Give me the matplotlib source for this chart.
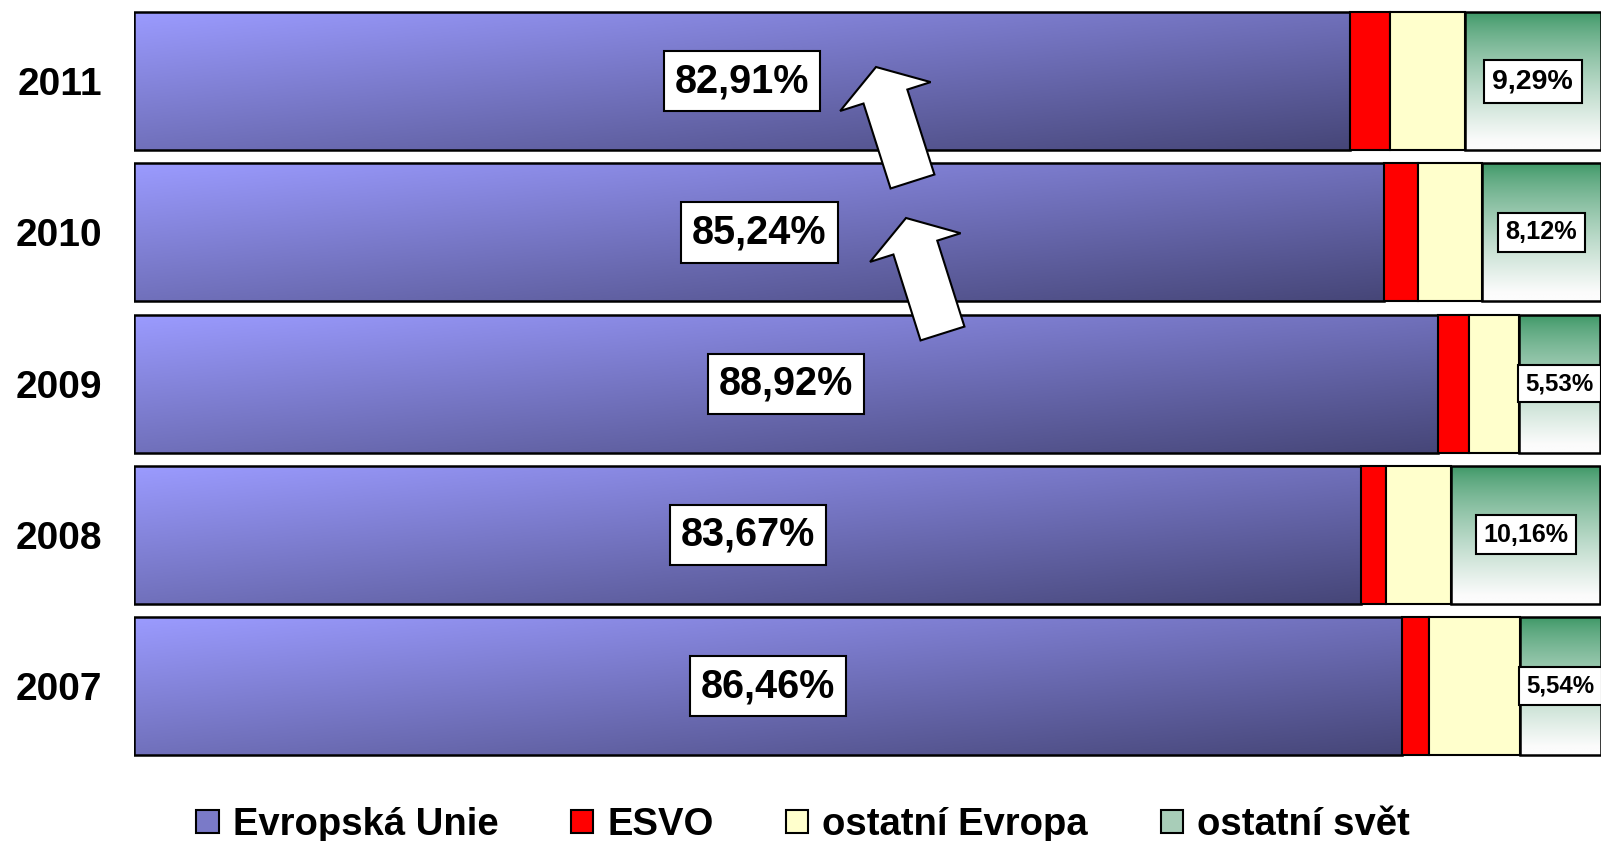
import numpy as np
import matplotlib
matplotlib.use('Agg')
import matplotlib.pyplot as plt
from matplotlib.patches import FancyArrow, Patch
from matplotlib.transforms import IdentityTransform

years = ['2007', '2008', '2009', '2010', '2011']
eu = [86.46, 83.67, 88.92, 85.24, 82.91]
esvo = [1.81, 1.67, 2.09, 2.30, 2.71]
other_europe = [6.19, 4.45, 3.41, 4.34, 5.09]
other_world = [5.54, 10.16, 5.53, 8.12, 9.29]
legend_labels = ['Evropská Unie', 'ESVO', 'ostatní Evropa', 'ostatní svět']

# label font sizes of the small boxes differ a bit per year in the original
world_label_sizes = [17.3, 18.0, 17.3, 18.2, 20.5]

plt.rcParams['font.family'] = ['Liberation Sans', 'DejaVu Sans']
plt.rcParams['font.weight'] = 'bold'

fig = plt.figure(figsize=(16.01, 8.41), dpi=100)
ax = fig.add_axes([134 / 1601, 0.0943, 1 - 134 / 1601, 0.899])

bar_h = 0.913
ypos = np.arange(len(years))


def eu_gradient():
    u = np.linspace(0, 1, 300)[None, :]
    v = np.linspace(0, 1, 60)[:, None]
    t = np.clip(0.5 * u + 0.5 * v, 0, 1)[..., None]
    light = np.array([155, 155, 255]) / 255
    dark = np.array([70, 70, 120]) / 255
    return light * (1 - t) + dark * t


def green_gradient():
    v = np.linspace(0, 1, 60)[:, None, None] * np.ones((1, 10, 1))
    t = np.clip(v / 0.95, 0, 1) ** 0.75
    top = np.array([58, 150, 100]) / 255
    white = np.array([252, 252, 252]) / 255
    return top * (1 - t) + white * t


left = np.zeros(len(years))
bars_eu = ax.barh(ypos, eu, left=left, height=bar_h, color='none',
                  edgecolor='black', linewidth=1.8, zorder=3)
left = left + np.array(eu)
bars_esvo = ax.barh(ypos, esvo, left=left, height=bar_h, color='#ff0000',
                    edgecolor='black', linewidth=1.5, zorder=3)
left = left + np.array(esvo)
bars_oe = ax.barh(ypos, other_europe, left=left, height=bar_h, color='#ffffcc',
                  edgecolor='black', linewidth=1.5, zorder=3)
left = left + np.array(other_europe)
bars_w = ax.barh(ypos, other_world, left=left, height=bar_h, color='none',
                 edgecolor='black', linewidth=1.8, zorder=3)

# gradient fills under the transparent bars
for bar in bars_eu:
    x0, y0 = bar.get_x(), bar.get_y()
    im = ax.imshow(eu_gradient(), extent=[x0, x0 + bar.get_width(), y0, y0 + bar.get_height()],
                   origin='upper', aspect='auto', zorder=2, interpolation='bilinear')
    im.set_clip_path(bar)
for bar in bars_w:
    x0, y0 = bar.get_x(), bar.get_y()
    im = ax.imshow(green_gradient(), extent=[x0, x0 + bar.get_width(), y0, y0 + bar.get_height()],
                   origin='upper', aspect='auto', zorder=2, interpolation='bilinear')
    im.set_clip_path(bar)

ax.set_xlim(0, 100)
ax.set_ylim(-0.5, len(years) - 0.5)

for bar, val in zip(bars_eu, eu):
    ax.text(bar.get_x() + bar.get_width() / 2, bar.get_y() + bar.get_height() / 2,
            f'{val:.2f}%'.replace('.', ','), ha='center', va='center',
            fontsize=28.5, fontweight='bold', zorder=6,
            bbox=dict(boxstyle='square,pad=0.28', fc='white', ec='black', lw=1.5))
for bar, val, fs in zip(bars_w, other_world, world_label_sizes):
    ax.text(bar.get_x() + bar.get_width() / 2, bar.get_y() + bar.get_height() / 2,
            f'{val:.2f}%'.replace('.', ','), ha='center', va='center',
            fontsize=fs, fontweight='bold', zorder=6, clip_on=False,
            bbox=dict(boxstyle='square,pad=0.3', fc='white', ec='black', lw=1.5))

ax.set_yticks(ypos)
ax.set_yticklabels(years, fontsize=28, fontweight='bold')
ax.tick_params(axis='y', length=0, pad=23)
ax.set_xticks([])
for s in ax.spines.values():
    s.set_visible(False)

# two white arrows (pixel coordinates, y from top)
H = 841
for tail, tip in [((912.5, 181.5), (876, 67)), ((942.5, 333.5), (906, 218))]:
    arr = FancyArrow(tail[0], H - tail[1], tip[0] - tail[0], tail[1] - tip[1],
                     width=46, head_width=95, head_length=31,
                     length_includes_head=True, transform=IdentityTransform(),
                     fc='white', ec='black', lw=1.5, zorder=10)
    fig.patches.append(arr)

handles = [Patch(fc='#7a7ac8', ec='black', lw=1.5),
           Patch(fc='#ff0000', ec='black', lw=1.5),
           Patch(fc='#ffffcc', ec='black', lw=1.5),
           Patch(fc='#a8cdb8', ec='black', lw=1.5)]
fig.legend(handles, legend_labels, loc='center', bbox_to_anchor=(0.5016, 0.019),
           ncol=4, frameon=False, prop=dict(size=27.5, weight='bold'),
           handlelength=0.58, handleheight=0.58, handletextpad=0.37,
           columnspacing=1.9, borderpad=0.1)

fig.savefig('out.png', dpi=100)
